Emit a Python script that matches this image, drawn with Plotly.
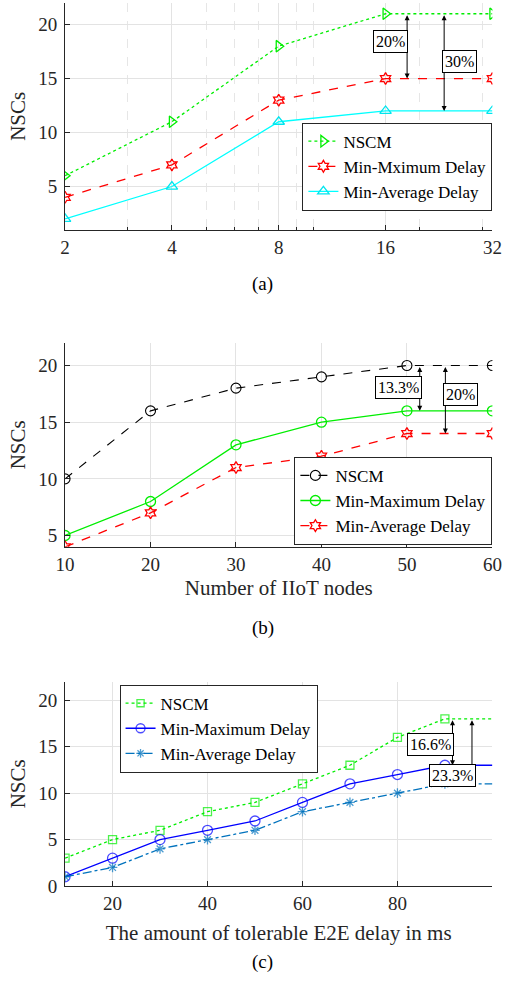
import plotly.graph_objects as go
import math

# ---------------- data ----------------
# panel (a)
a_x = [2, 4, 8, 16, 32]
a_nscm = [6, 11, 18, 21, 21]
a_minmax = [4, 7, 13, 15, 15]
a_minavg = [2, 5, 11, 12, 12]
a_ticks = [2, 4, 8, 16, 32]
a_minor = [3, 5, 6, 7, 9, 10, 20, 30]

# panel (b)
b_x = [10, 20, 30, 40, 50, 60]
b_nscm = [10, 16, 18, 19, 20, 20]
b_minmax = [5, 8, 13, 15, 16, 16]
b_minavg = [4, 7, 11, 12, 14, 14]

# panel (c)
c_x = [10, 20, 30, 40, 50, 60, 70, 80, 90, 100]
c_nscm = [3, 5, 6, 8, 9, 11, 13, 16, 18, 18]
c_minmax = [1, 3, 5, 6, 7, 9, 11, 12, 13, 13]
c_minavg = [1, 2, 4, 5, 6, 8, 9, 10, 11, 11]
c_ticks = [20, 40, 60, 80]

names_a = ["NSCM", "Min-Mximum Delay", "Min-Average Delay"]
names_bc = ["NSCM", "Min-Maximum Delay", "Min-Average Delay"]

FONT = "Liberation Serif, Times New Roman, serif"
AX = "#262626"
GRID = "#e3e3e3"

fig = go.Figure()

# ---- panel (a)
fig.add_trace(go.Scatter(x=a_x, y=a_nscm, name=names_a[0], mode="lines+markers",
                         line=dict(color="#00ee00", dash="dot", width=1.3),
                         marker=dict(symbol="triangle-right-open", size=10, color="#00ee00", line=dict(width=1.3)),
                         xaxis="x", yaxis="y", legend="legend"))
fig.add_trace(go.Scatter(x=a_x, y=a_minmax, name=names_a[1], mode="lines+markers",
                         line=dict(color="#ff0000", dash="dash", width=1.3),
                         marker=dict(symbol="hexagram-open", size=9, color="#ff0000", line=dict(width=1.3)),
                         xaxis="x", yaxis="y", legend="legend"))
fig.add_trace(go.Scatter(x=a_x, y=a_minavg, name=names_a[2], mode="lines+markers",
                         line=dict(color="#00ffff", width=1.3),
                         marker=dict(symbol="triangle-up-open", size=10, color="#00e5ee", line=dict(width=1.3)),
                         xaxis="x", yaxis="y", legend="legend"))

# ---- panel (b)
fig.add_trace(go.Scatter(x=b_x, y=b_nscm, name=names_bc[0], mode="lines+markers",
                         line=dict(color="#000000", dash="dash", width=1.1),
                         marker=dict(symbol="circle-open", size=10, color="#000000", line=dict(width=1.1)),
                         xaxis="x2", yaxis="y2", legend="legend2"))
fig.add_trace(go.Scatter(x=b_x, y=b_minmax, name=names_bc[1], mode="lines+markers",
                         line=dict(color="#00ee00", width=1.3),
                         marker=dict(symbol="circle-open", size=10, color="#00ee00", line=dict(width=1.3)),
                         xaxis="x2", yaxis="y2", legend="legend2"))
fig.add_trace(go.Scatter(x=b_x, y=b_minavg, name=names_bc[2], mode="lines+markers",
                         line=dict(color="#ff0000", dash="dash", width=1.3),
                         marker=dict(symbol="hexagram-open", size=9, color="#ff0000", line=dict(width=1.3)),
                         xaxis="x2", yaxis="y2", legend="legend2"))

# ---- panel (c): last point (x=100) drawn as line only
def sizes(n, s):
    return [s] * (n - 1) + [0]

fig.add_trace(go.Scatter(x=c_x, y=c_nscm, name=names_bc[0], mode="lines+markers",
                         line=dict(color="#00ee00", dash="dot", width=1.3),
                         marker=dict(symbol="square-open", size=sizes(len(c_x), 8), color="#00ee00", line=dict(width=1.3)),
                         xaxis="x3", yaxis="y3", legend="legend3"))
fig.add_trace(go.Scatter(x=c_x, y=c_minmax, name=names_bc[1], mode="lines+markers",
                         line=dict(color="#0000ff", width=1.3),
                         marker=dict(symbol="circle-open", size=sizes(len(c_x), 10), color="#0000ff", line=dict(width=1.3)),
                         xaxis="x3", yaxis="y3", legend="legend3"))
fig.add_trace(go.Scatter(x=c_x, y=c_minavg, name=names_bc[2], mode="lines+markers",
                         line=dict(color="#0072BD", dash="dashdot", width=1.3),
                         marker=dict(symbol="asterisk-open", size=sizes(len(c_x), 8), color="#0072BD", line=dict(width=1.3)),
                         xaxis="x3", yaxis="y3", legend="legend3"))

H = 989.0
W = 512.0
def py(p):  # pixel y -> paper
    return (H - p) / H

XD = [57.3 / W, 502.0 / W]
tickfont = dict(family=FONT, size=19, color="#262626")
titlefont = dict(family=FONT, size=21, color="#262626")
legfont = dict(family=FONT, size=17, color="#000")

common_x = dict(showline=True, linecolor=AX, linewidth=1, ticks="inside", ticklen=5, tickcolor=AX,
                showgrid=True, gridcolor=GRID, gridwidth=1, zeroline=False, tickfont=tickfont, domain=XD)
common_y = dict(showline=True, linecolor=AX, linewidth=1, ticks="inside", ticklen=5, tickcolor=AX,
                showgrid=True, gridcolor=GRID, gridwidth=1, zeroline=False, tickfont=tickfont,
                ticklabelstandoff=3,
                title=dict(text="NSCs", font=titlefont, standoff=6))

fig.update_layout(
    width=512, height=989, margin=dict(l=0, r=0, t=0, b=0),
    paper_bgcolor="white", plot_bgcolor="white",
    font=dict(family=FONT, color="#262626"),
    xaxis=dict(common_x, type="log", range=[math.log10(2), math.log10(32)], tickvals=a_ticks,
               ticktext=[str(t) for t in a_ticks], anchor="y",
               minor=dict(tickvals=a_minor, showgrid=True, gridcolor="#e6e6e6", griddash="dash",
                          ticks="inside", ticklen=3, tickcolor=AX)),
    yaxis=dict(common_y, range=[1, 22], tickvals=[5, 10, 15, 20], anchor="x",
               domain=[py(232.3), py(3)]),
    xaxis2=dict(common_x, range=[10, 60], tickvals=b_x, anchor="y2",
                title=dict(text="Number of IIoT nodes", font=titlefont, standoff=6)),
    yaxis2=dict(common_y, range=[4, 22], tickvals=[5, 10, 15, 20], anchor="x2",
                domain=[py(553), py(346.7)]),
    xaxis3=dict(common_x, range=[10, 100], tickvals=c_ticks, anchor="y3",
                title=dict(text="The amount of tolerable E2E delay in ms", font=titlefont, standoff=12)),
    yaxis3=dict(common_y, range=[0, 22], tickvals=[0, 5, 10, 15, 20], anchor="x3",
                domain=[py(896), py(689.3)]),
    legend=dict(x=502 / W, xanchor="right", y=py(213), yanchor="bottom",
                bgcolor="white", bordercolor=AX, borderwidth=1,
                font=legfont, itemwidth=30, tracegroupgap=0),
    legend2=dict(x=502 / W, xanchor="right", y=py(551), yanchor="bottom",
                 bgcolor="white", bordercolor=AX, borderwidth=1,
                 font=legfont, itemwidth=30, tracegroupgap=0),
    legend3=dict(x=114 / W, xanchor="left", y=py(692.3), yanchor="top",
                 bgcolor="white", bordercolor=AX, borderwidth=1,
                 font=legfont, itemwidth=30, tracegroupgap=0),
    showlegend=True,
)

# ---- difference arrows and labels
def arrow(xref, yref, x, y0, y1):
    fig.add_annotation(x=x, y=y1, ax=x, ay=y0, xref=xref, yref=yref, axref=xref, ayref=yref,
                       showarrow=True, arrowhead=2, startarrowhead=2, arrowside="end+start",
                       arrowsize=1, startarrowsize=1, arrowwidth=1, arrowcolor="#000", text="")

def label(xref, yref, x, y, text):
    fig.add_annotation(x=x, y=y, xref=xref, yref=yref, text=text, showarrow=False,
                       font=dict(family=FONT, size=16, color="#000"),
                       bgcolor="white", bordercolor="#000", borderwidth=1, borderpad=2)

# (a) log axis -> log10 coordinates
arrow("x", "y", math.log10(18.4), a_nscm[-1], a_minmax[-1])
arrow("x", "y", math.log10(23.4), a_nscm[-1], a_minavg[-1])
label("x", "y", math.log10(16.5), 18.4, "20%")
label("x", "y", math.log10(25.9), 16.6, "30%")
# (b)
arrow("x2", "y2", 51.5, b_nscm[-1], b_minmax[-1])
arrow("x2", "y2", 54.5, b_nscm[-1], b_minavg[-1])
label("x2", "y2", 49.0, 18.1, "13.3%")
label("x2", "y2", 56.3, 17.4, "20%")
# (c)
arrow("x3", "y3", 91.6, c_nscm[-1], c_minmax[-1])
arrow("x3", "y3", 95.7, c_nscm[-1], c_minavg[-1])
label("x3", "y3", 86.9, 15.27, "16.6%")
label("x3", "y3", 91.6, 11.9, "23.3%")

# ---- captions
for txt, p in [("(a)", 287), ("(b)", 635), ("(c)", 973)]:
    fig.add_annotation(x=263 / W, y=py(p), xref="paper", yref="paper", text=txt, showarrow=False,
                       xanchor="center", yanchor="middle",
                       font=dict(family=FONT, size=19, color="#000"))

fig.write_html("out.html")
